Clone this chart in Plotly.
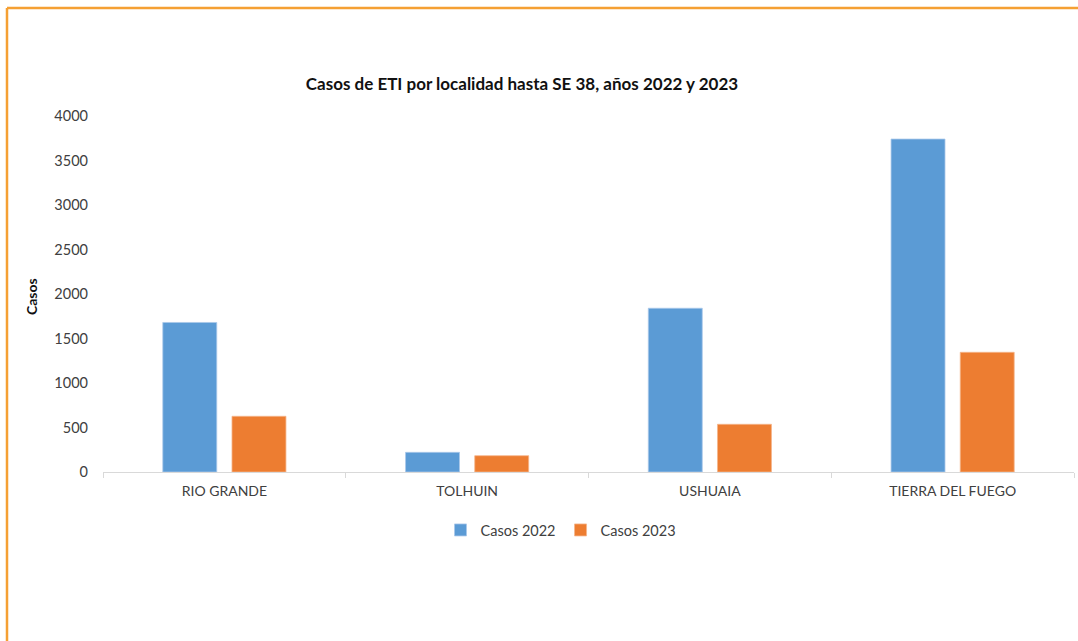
import plotly.graph_objects as go

categories = ["RIO GRANDE", "TOLHUIN", "USHUAIA", "TIERRA DEL FUEGO"]
casos_2022 = [1680, 221, 1840, 3741]
casos_2023 = [626, 183, 536, 1345]
series_names = ["Casos 2022", "Casos 2023"]
y_ticks = [0, 500, 1000, 1500, 2000, 2500, 3000, 3500, 4000]

W, H = 1078, 641
L, R, T, B = 103, 4, 116, 169
pw, ph = W - L - R, H - T - B

def px_x(x):
    return (x - L) / pw

def px_y(y):
    return (H - B - y) / ph

FONT = "Lato, 'Open Sans', sans-serif"

fig = go.Figure()
fig.add_trace(go.Bar(x=categories, y=casos_2022, name=series_names[0],
                     marker=dict(color="#5B9BD5", line=dict(width=0.8, color="#A9C8EA"))))
fig.add_trace(go.Bar(x=categories, y=casos_2023, name=series_names[1],
                     marker=dict(color="#ED7D31", line=dict(width=0.8, color="#F5B58C"))))

fig.update_layout(
    width=W, height=H,
    margin=dict(l=L, r=R, t=T, b=B),
    paper_bgcolor="white", plot_bgcolor="white",
    barmode="group", bargap=0.43, bargroupgap=0.22,
    font=dict(family=FONT, size=14, color="#404040"),
    title=dict(text="<b>Casos de ETI por localidad hasta SE 38, años 2022 y 2023</b>",
               x=522 / W, xanchor="center", xref="container",
               y=1 - 84 / H, yanchor="middle", yref="container",
               font=dict(family=FONT, size=17, color="#111111")),
    xaxis=dict(showgrid=False, showline=True, linecolor="#D9D9D9", linewidth=1,
               ticks="outside", tickson="boundaries", ticklen=5, tickcolor="#D9D9D9",
               ticklabelstandoff=6,
               tickfont=dict(size=14, color="#404040"), zeroline=False),
    yaxis=dict(range=[0, 4000], tickvals=y_ticks, showgrid=False, showline=False,
               zeroline=False, ticklabelstandoff=14,
               tickfont=dict(size=14.5, color="#404040")),
    legend=dict(orientation="h", x=px_x(561), xanchor="center", y=px_y(530), yanchor="middle",
                font=dict(size=14.5, color="#404040"), itemwidth=30, bgcolor="rgba(0,0,0,0)"),
    showlegend=True,
)

fig.add_annotation(text="<b>Casos</b>", textangle=-90, x=px_x(31), y=px_y(297),
                   xref="paper", yref="paper", xanchor="center", yanchor="middle",
                   showarrow=False,
                   font=dict(family=FONT, size=14, color="#111111"))

frame_color = "#F5A033"
fig.add_shape(type="line", xref="paper", yref="paper",
              x0=px_x(7), x1=px_x(W + 2), y0=px_y(8), y1=px_y(8),
              line=dict(color=frame_color, width=2.5))
fig.add_shape(type="line", xref="paper", yref="paper",
              x0=px_x(7), x1=px_x(7), y0=px_y(8), y1=px_y(H + 2),
              line=dict(color=frame_color, width=2.5))

fig.write_html("out.html", config={"displayModeBar": False},
               post_script="document.body.style.margin='0';document.body.style.overflow='hidden';")
